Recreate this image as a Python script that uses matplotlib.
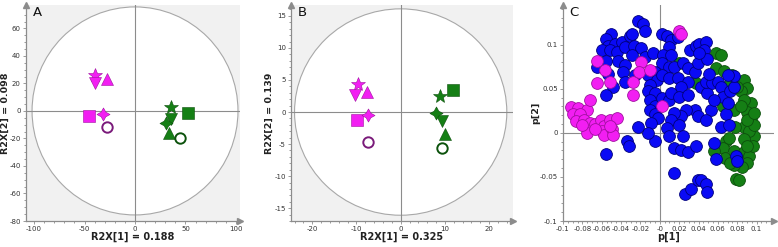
import numpy as np
import matplotlib.pyplot as plt
from matplotlib.patches import Ellipse
from matplotlib.ticker import MultipleLocator, AutoMinorLocator, FuncFormatter

plt.rcParams['axes.unicode_minus'] = False
plt.rcParams['font.family'] = 'DejaVu Sans'

# marker order shared by panels A and B
shapes = ['*', 'v', '^', 's', (4, 1, 0), 'o']

# panel A scores
a_mag_x = [-40, -40, -28, -46, -32, -28]
a_mag_y = [26, 20, 23, -4, -2.5, -11.6]
a_grn_x = [35.5, 35.5, 34, 52, 31, 44.5]
a_grn_y = [2.7, -5.6, -16, -1.2, -9, -20]

# panel B scores
b_mag_x = [-9.6, -10.4, -7.6, -9.8, -7.5, -7.4]
b_mag_y = [4.4, 2.7, 3.1, -1.3, -0.5, -4.7]
b_grn_x = [9.0, 9.4, 10.1, 11.9, 8.1, 9.4]
b_grn_y = [2.5, -1.4, -3.5, 3.5, -0.2, -5.6]

# panel C loadings
c_mag_x = [-0.092, -0.084, -0.075, -0.072, -0.090, -0.082, -0.087, -0.078, -0.072,
           -0.075, -0.067, -0.061, -0.058, -0.051, -0.044, -0.060, -0.058, -0.049,
           -0.048, -0.051, -0.067, -0.080, -0.065, -0.057, -0.051, -0.065, -0.028,
           -0.028, -0.019, -0.021, -0.010, 0.002, 0.020, 0.022]
c_mag_y = [0.029, 0.028, 0.026, 0.037, 0.021, 0.021, 0.013, 0.015, 0.011,
           0.000, 0.010, 0.015, 0.008, 0.015, 0.017, 0.002, -0.003, 0.004,
           -0.002, 0.008, 0.004, 0.009, 0.082, 0.071, 0.058, 0.056, 0.058,
           0.043, 0.080, 0.069, 0.071, 0.030, 0.116, 0.112]

c_grn_x = [0.020, 0.037, 0.058, 0.063, 0.058, 0.066, 0.075, 0.087, 0.090, 0.084,
           0.094, 0.087, 0.065, 0.077, 0.090, 0.094, 0.087, 0.078, 0.097, 0.092,
           0.087, 0.068, 0.065, 0.056, 0.067, 0.077, 0.087, 0.092, 0.090, 0.085,
           0.077, 0.073, 0.079, 0.082, 0.096, 0.090, 0.097, 0.090, 0.070, 0.084,
           0.073, 0.080, 0.097, 0.072]
c_grn_y = [0.079, 0.057, 0.090, 0.088, 0.073, 0.070, 0.066, 0.060, 0.051, 0.047,
           0.034, 0.037, 0.030, 0.026, 0.024, 0.017, 0.007, 0.007, -0.004, 0.002,
           -0.007, -0.009, -0.017, -0.021, -0.028, -0.021, -0.022, -0.026, -0.034, -0.039,
           -0.037, -0.034, -0.052, -0.054, -0.015, -0.015, 0.009, 0.015, 0.047, 0.030,
           0.056, 0.052, 0.022, -0.006]

c_blu_x = [-0.022, -0.017, -0.015, -0.050, -0.056, -0.053, -0.046, -0.039, -0.031, -0.029,
           -0.060, -0.051, -0.044, -0.036, -0.027, -0.019, -0.029, -0.043, -0.036, -0.056,
           -0.065, -0.053, -0.048, -0.056, -0.038, -0.036, -0.026, -0.015, -0.007, 0.002,
           0.007, 0.012, 0.019, 0.009, 0.003, 0.012, 0.002, 0.009, 0.015, 0.024,
           0.029, 0.036, 0.039, 0.031, 0.037, 0.041, 0.048, 0.046, 0.049, 0.041,
           -0.005, -0.012, -0.003, 0.002, 0.009, 0.019, 0.029, 0.022, -0.010, -0.012,
           -0.005, -0.010, -0.005, -0.010, -0.005, -0.002, -0.009, 0.002, 0.009, 0.012,
           0.020, 0.029, 0.036, 0.027, 0.039, 0.022, 0.015, 0.012, 0.020, 0.007,
           0.009, -0.005, -0.012, -0.022, -0.034, -0.032, -0.056, 0.024, 0.015, 0.022,
           0.029, 0.037, 0.015, 0.026, 0.032, 0.039, 0.043, 0.048, 0.049, 0.043,
           0.049, 0.048, 0.054, 0.051, 0.060, 0.063, 0.065, 0.073, 0.077, 0.077,
           0.070, 0.068, 0.063, 0.072, 0.056, 0.058, 0.079, 0.080, 0.053, 0.048,
           0.070, 0.056]
c_blu_y = [0.127, 0.124, 0.116, 0.112, 0.107, 0.099, 0.101, 0.103, 0.110, 0.112,
           0.094, 0.094, 0.092, 0.097, 0.099, 0.096, 0.088, 0.082, 0.077, 0.082,
           0.075, 0.067, 0.052, 0.043, 0.069, 0.058, 0.066, 0.086, 0.090, 0.112,
           0.110, 0.105, 0.109, 0.097, 0.088, 0.088, 0.079, 0.075, 0.075, 0.079,
           0.073, 0.069, 0.079, 0.094, 0.099, 0.101, 0.103, 0.094, 0.084, 0.090,
           0.069, 0.066, 0.060, 0.066, 0.062, 0.062, 0.058, 0.052, 0.054, 0.047,
           0.045, 0.037, 0.030, 0.026, 0.021, 0.017, 0.011, 0.039, 0.037, 0.045,
           0.041, 0.043, 0.026, 0.026, 0.019, 0.019, 0.022, 0.015, 0.009, 0.006,
           -0.004, -0.009, 0.000, 0.007, -0.009, -0.015, -0.024, -0.004, -0.017, -0.019,
           -0.022, -0.015, -0.045, -0.069, -0.064, -0.054, -0.054, -0.058, -0.067, 0.052,
           0.045, 0.058, 0.056, 0.067, 0.058, 0.052, 0.041, 0.047, 0.052, 0.064,
           0.066, 0.021, 0.007, 0.009, -0.011, -0.030, -0.026, -0.032, 0.026, 0.015,
           0.034, 0.037]

MAG = '#f21ef2'
MAG_E = '#a010a0'
OPEN_MAG = '#7a1a7a'
GRN = '#157f15'
GRN_E = '#0c4f0c'
OPEN_GRN = '#0c520c'
BLU = '#0a0af5'
BLU_E = '#00007a'
AX_GRAY = '#8c8c8c'

fig = plt.figure(figsize=(7.78, 2.47), dpi=100)


def style_axes(ax, label_x, label_y, letter, ylab_x, ax_w):
    for s in ['top', 'right']:
        ax.spines[s].set_visible(False)
    for s in ['left', 'bottom']:
        ax.spines[s].set_color(AX_GRAY)
        ax.spines[s].set_linewidth(0.9)
    ax.tick_params(which='both', colors=AX_GRAY, labelcolor='#333333', labelsize=5,
                   length=2.5, width=0.6, pad=1.2)
    ax.tick_params(which='minor', length=1.5)
    ax.xaxis.set_minor_locator(AutoMinorLocator())
    ax.yaxis.set_minor_locator(AutoMinorLocator())
    ax.set_xlabel(label_x, fontsize=7, fontweight='bold', color='#222222')
    ax.set_ylabel(label_y, fontsize=6.8, fontweight='bold', color='#222222')
    ax.xaxis.set_label_coords(0.5, -11 / 216)
    ax.yaxis.set_label_coords(ylab_x / ax_w, 0.5)
    ax.axhline(0, color=AX_GRAY, lw=0.8, zorder=1)
    ax.axvline(0, color=AX_GRAY, lw=0.8, zorder=1)
    ax.plot(1, 0, '>', color=AX_GRAY, ms=5, transform=ax.transAxes, clip_on=False)
    ax.plot(0, 1, '^', color=AX_GRAY, ms=5, transform=ax.transAxes, clip_on=False)
    ax.text(0.03, 0.995, letter, transform=ax.transAxes, fontsize=9.5, va='top',
            ha='left', color='#111111')


def score_panel(ax, mx, my, gx, gy, w, h):
    ax.set_facecolor('#f1f1f1')
    ax.add_patch(Ellipse((0, 0), 2 * w, 2 * h, facecolor='white', edgecolor='#a8a8a8',
                         lw=0.8, zorder=0.5))
    for i, m in enumerate(shapes):
        size = 10.5 if m == '*' else (9.5 if m == (4, 1, 0) else 8)
        if m == 'o':
            ax.plot(mx[i], my[i], 'o', ms=7.5, mfc='white', mec=OPEN_MAG, mew=1.4, zorder=3)
            ax.plot(gx[i], gy[i], 'o', ms=7.5, mfc='white', mec=OPEN_GRN, mew=1.4, zorder=3)
        else:
            ax.plot(mx[i], my[i], marker=m, ms=size, color=MAG, mec=MAG_E, mew=0.4,
                    ls='none', zorder=3)
            ax.plot(gx[i], gy[i], marker=m, ms=size, color=GRN, mec=GRN_E, mew=0.4,
                    ls='none', zorder=3)


# Panel A
axA = fig.add_axes([26 / 778, 26 / 247, 214 / 778, 216 / 247])
score_panel(axA, a_mag_x, a_mag_y, a_grn_x, a_grn_y, 102, 75.6)
axA.set_xlim(-108, 104)
axA.set_ylim(-80, 77)
axA.xaxis.set_major_locator(MultipleLocator(50))
axA.yaxis.set_major_locator(MultipleLocator(20))
style_axes(axA, 'R2X[1] = 0.188', 'R2X[2] = 0.098', 'A', -16.5, 214)

# Panel B
axB = fig.add_axes([291 / 778, 26 / 247, 222 / 778, 216 / 247])
score_panel(axB, b_mag_x, b_mag_y, b_grn_x, b_grn_y, 24, 16.1)
axB.set_xlim(-24.8, 25.4)
axB.set_ylim(-17, 16.7)
axB.xaxis.set_major_locator(MultipleLocator(10))
axB.yaxis.set_major_locator(MultipleLocator(5))
style_axes(axB, 'R2X[1] = 0.325', 'R2X[2] = 0.139', 'B', -17, 222)

# Panel C
axC = fig.add_axes([563 / 778, 26 / 247, 211 / 778, 216 / 247])
axC.scatter(c_grn_x, c_grn_y, s=72, c=GRN, edgecolors=GRN_E, linewidths=0.6, zorder=3)
axC.scatter(c_blu_x, c_blu_y, s=72, c=BLU, edgecolors=BLU_E, linewidths=0.6, zorder=4)
axC.scatter(c_mag_x, c_mag_y, s=72, c=MAG, edgecolors=MAG_E, linewidths=0.6, zorder=5)
axC.set_xlim(-0.1, 0.118)
axC.set_ylim(-0.1, 0.145)
axC.xaxis.set_major_locator(MultipleLocator(0.02))
axC.yaxis.set_major_locator(MultipleLocator(0.05))
fmt = FuncFormatter(lambda v, p: '%g' % round(v, 3))
axC.xaxis.set_major_formatter(fmt)
axC.yaxis.set_major_formatter(fmt)
style_axes(axC, 'p[1]', 'p[2]', 'C', -23, 211)

fig.savefig('out.png', dpi=100)
